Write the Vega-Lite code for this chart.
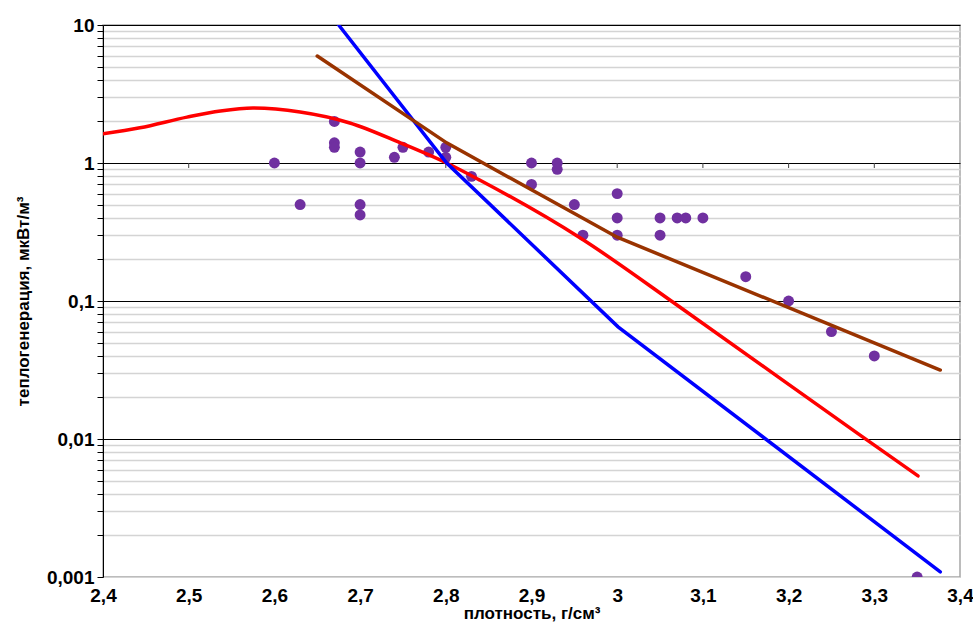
{
  "$schema": "https://vega.github.io/schema/vega-lite/v6.json",
  "autosize": "none",
  "width": 857,
  "height": 552,
  "padding": {"left": 103, "top": 25, "right": 13, "bottom": 46},
  "background": "white",
  "config": {
    "font": "Liberation Sans",
    "view": {"stroke": "#a6a6a6", "strokeWidth": 1.5}
  },
  "datasets": {
    "samples": [
      {"density": 2.6, "heat": 1.0},
      {"density": 2.63, "heat": 0.5},
      {"density": 2.67, "heat": 2.0},
      {"density": 2.67, "heat": 1.4},
      {"density": 2.67, "heat": 1.3},
      {"density": 2.7, "heat": 1.2},
      {"density": 2.7, "heat": 1.0},
      {"density": 2.7, "heat": 0.5},
      {"density": 2.7, "heat": 0.42},
      {"density": 2.74, "heat": 1.1},
      {"density": 2.75, "heat": 1.3},
      {"density": 2.78, "heat": 1.2},
      {"density": 2.8, "heat": 1.3},
      {"density": 2.8, "heat": 1.1},
      {"density": 2.83, "heat": 0.8},
      {"density": 2.9, "heat": 1.0},
      {"density": 2.9, "heat": 0.7},
      {"density": 2.93, "heat": 1.0},
      {"density": 2.93, "heat": 0.9},
      {"density": 2.95, "heat": 0.5},
      {"density": 2.96, "heat": 0.3},
      {"density": 3.0, "heat": 0.6},
      {"density": 3.0, "heat": 0.4},
      {"density": 3.0, "heat": 0.3},
      {"density": 3.05, "heat": 0.4},
      {"density": 3.05, "heat": 0.3},
      {"density": 3.07, "heat": 0.4},
      {"density": 3.08, "heat": 0.4},
      {"density": 3.1, "heat": 0.4},
      {"density": 3.15, "heat": 0.15},
      {"density": 3.2, "heat": 0.1},
      {"density": 3.25, "heat": 0.06},
      {"density": 3.3, "heat": 0.04},
      {"density": 3.35, "heat": 0.001}
    ],
    "redCurve": [
      {"density": 2.4, "heat": 1.63},
      {"density": 2.443, "heat": 1.8},
      {"density": 2.498, "heat": 2.15},
      {"density": 2.537, "heat": 2.38},
      {"density": 2.575, "heat": 2.5},
      {"density": 2.63, "heat": 2.34},
      {"density": 2.688, "heat": 1.95},
      {"density": 2.747, "heat": 1.4},
      {"density": 2.801, "heat": 1.0},
      {"density": 2.84, "heat": 0.75},
      {"density": 2.957, "heat": 0.286},
      {"density": 3.073, "heat": 0.0905},
      {"density": 3.283, "heat": 0.0107},
      {"density": 3.351, "heat": 0.0054}
    ],
    "segments": [
      {"series": "blue", "density": 2.675, "heat": 10},
      {"series": "blue", "density": 2.801, "heat": 1.0},
      {"series": "blue", "density": 3.001, "heat": 0.065},
      {"series": "blue", "density": 3.377, "heat": 0.00109},
      {"series": "brown", "density": 2.65, "heat": 5.96},
      {"series": "brown", "density": 2.801, "heat": 1.4},
      {"series": "brown", "density": 3.0, "heat": 0.29},
      {"series": "brown", "density": 3.377, "heat": 0.0316}
    ],
    "xticks": [
      {"density": 2.5}, {"density": 2.6}, {"density": 2.7}, {"density": 2.8},
      {"density": 2.9}, {"density": 3.0}, {"density": 3.1}, {"density": 3.2},
      {"density": 3.3}
    ]
  },
  "layer": [
    {
      "data": {"name": "xticks"},
      "mark": {"type": "rule", "color": "#404040", "strokeWidth": 1},
      "encoding": {
        "x": {"field": "density", "type": "quantitative",
              "scale": {"domain": [2.4, 3.4], "nice": false, "zero": false},
              "axis": {
                "values": [2.4, 2.5, 2.6, 2.7, 2.8, 2.9, 3.0, 3.1, 3.2, 3.3, 3.4],
                "labelExpr": "replace(format(datum.value, '~g'), '.', ',')",
                "labelFont": "Liberation Sans",
                "labelFontSize": 19,
                "labelFontWeight": "bold",
                "labelColor": "black",
                "labelPadding": 9,
                "labelFlush": false,
                "labelBound": false,
                "ticks": false,
                "domain": false,
                "grid": false,
                "title": "плотность, г/см³",
                "titleFont": "Liberation Sans",
                "titleFontSize": 17,
                "titleFontWeight": "bold",
                "titleColor": "black",
                "titlePadding": 0
              }},
        "y": {"datum": 1, "type": "quantitative"},
        "y2": {"datum": 0.92}
      }
    },
    {
      "data": {"name": "samples"},
      "mark": {"type": "point", "filled": true, "size": 120, "opacity": 1, "color": "#7030A0", "clip": true},
      "encoding": {
        "x": {"field": "density", "type": "quantitative"},
        "y": {"field": "heat", "type": "quantitative",
              "scale": {"type": "log", "domain": [0.001, 10], "nice": false},
              "axis": {
                "values": [0.001, 0.002, 0.003, 0.004, 0.005, 0.006, 0.007, 0.008, 0.009,
                           0.01, 0.02, 0.03, 0.04, 0.05, 0.06, 0.07, 0.08, 0.09,
                           0.1, 0.2, 0.3, 0.4, 0.5, 0.6, 0.7, 0.8, 0.9,
                           1, 2, 3, 4, 5, 6, 7, 8, 9, 10],
                "labelExpr": "abs(log(datum.value) / LN10 - round(log(datum.value) / LN10)) < 1e-6 ? replace(format(datum.value, '~g'), '.', ',') : ''",
                "labelFont": "Liberation Sans",
                "labelFontSize": 19,
                "labelFontWeight": "bold",
                "labelColor": "black",
                "labelPadding": 3,
                "labelOverlap": false,
                "labelFlush": false,
                "labelBound": false,
                "tickColor": "black",
                "tickSize": 6,
                "tickWidth": 1,
                "domainColor": "black",
                "domainWidth": 1,
                "grid": true,
                "gridColor": {
                  "condition": {"test": "datum.value > 0.002 && abs(log(datum.value) / LN10 - round(log(datum.value) / LN10)) < 1e-6", "value": "black"},
                  "value": "#d4d4d4"
                },
                "gridWidth": {
                  "condition": {"test": "abs(log(datum.value) / LN10 - round(log(datum.value) / LN10)) < 1e-6", "value": 1.2},
                  "value": 1.6
                },
                "title": "теплогенерация, мкВт/м³",
                "titleFont": "Liberation Sans",
                "titleFontSize": 17,
                "titleFontWeight": "bold",
                "titleColor": "black",
                "titlePadding": 14
              }}
      }
    },
    {
      "data": {"name": "redCurve"},
      "mark": {"type": "line", "strokeWidth": 3.5, "strokeCap": "round", "interpolate": "monotone", "color": "#FF0000", "clip": true},
      "encoding": {
        "x": {"field": "density", "type": "quantitative"},
        "y": {"field": "heat", "type": "quantitative"}
      }
    },
    {
      "data": {"name": "segments"},
      "mark": {"type": "line", "strokeWidth": 3.5, "strokeCap": "round", "clip": true},
      "encoding": {
        "x": {"field": "density", "type": "quantitative"},
        "y": {"field": "heat", "type": "quantitative"},
        "color": {"field": "series", "type": "nominal",
                  "scale": {"domain": ["blue", "brown"], "range": ["#0000FF", "#993300"]},
                  "legend": null},
        "order": {"field": "density", "type": "quantitative"}
      }
    }
  ]
}
